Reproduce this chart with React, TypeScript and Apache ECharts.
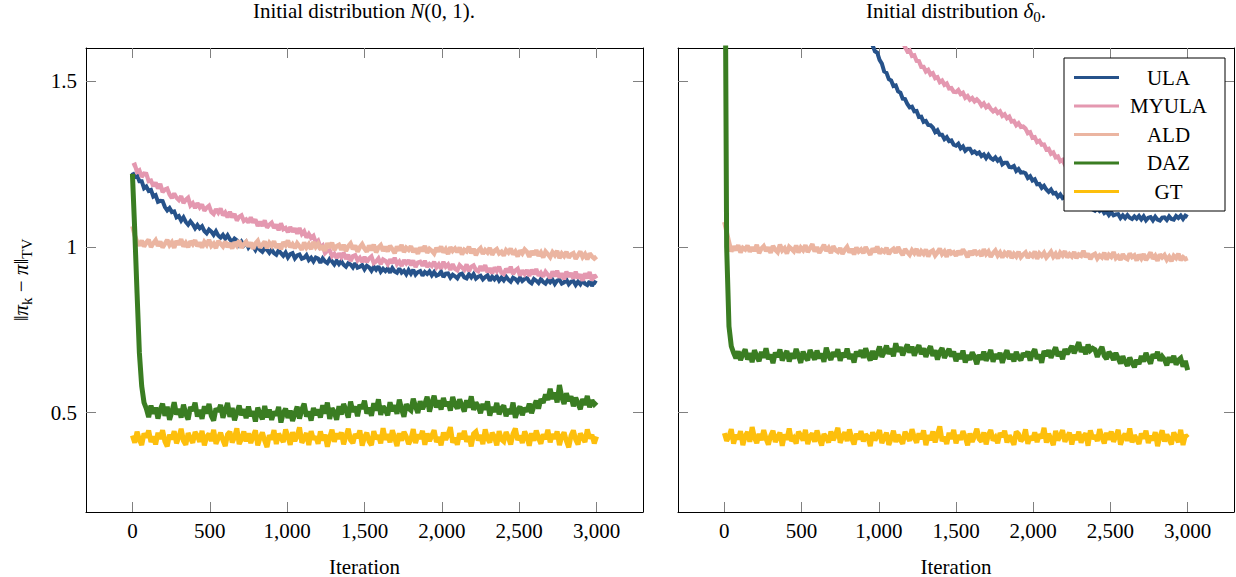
import React, { useEffect, useRef } from "react";
import * as echarts from "echarts";

// Iteration index (x), every 15 iterations
const ITER = [
  0, 15, 30, 45, 60, 75, 90, 105, 120, 135,
  150, 165, 180, 195, 210, 225, 240, 255, 270, 285,
  300, 315, 330, 345, 360, 375, 390, 405, 420, 435,
  450, 465, 480, 495, 510, 525, 540, 555, 570, 585,
  600, 615, 630, 645, 660, 675, 690, 705, 720, 735,
  750, 765, 780, 795, 810, 825, 840, 855, 870, 885,
  900, 915, 930, 945, 960, 975, 990, 1005, 1020, 1035,
  1050, 1065, 1080, 1095, 1110, 1125, 1140, 1155, 1170, 1185,
  1200, 1215, 1230, 1245, 1260, 1275, 1290, 1305, 1320, 1335,
  1350, 1365, 1380, 1395, 1410, 1425, 1440, 1455, 1470, 1485,
  1500, 1515, 1530, 1545, 1560, 1575, 1590, 1605, 1620, 1635,
  1650, 1665, 1680, 1695, 1710, 1725, 1740, 1755, 1770, 1785,
  1800, 1815, 1830, 1845, 1860, 1875, 1890, 1905, 1920, 1935,
  1950, 1965, 1980, 1995, 2010, 2025, 2040, 2055, 2070, 2085,
  2100, 2115, 2130, 2145, 2160, 2175, 2190, 2205, 2220, 2235,
  2250, 2265, 2280, 2295, 2310, 2325, 2340, 2355, 2370, 2385,
  2400, 2415, 2430, 2445, 2460, 2475, 2490, 2505, 2520, 2535,
  2550, 2565, 2580, 2595, 2610, 2625, 2640, 2655, 2670, 2685,
  2700, 2715, 2730, 2745, 2760, 2775, 2790, 2805, 2820, 2835,
  2850, 2865, 2880, 2895, 2910, 2925, 2940, 2955, 2970, 2985,
  3000,
];

const SERIES_NAMES = ["ULA", "MYULA", "ALD", "DAZ", "GT"];
const X_TICKS = [0, 500, 1000, 1500, 2000, 2500, 3000];
const Y_TICKS = [0.5, 1, 1.5];

// ---- Left panel: initial distribution N(0,1) ----
const L_ULA = [
  1.225, 1.211, 1.216, 1.198, 1.198, 1.177, 1.182, 1.169, 1.172, 1.152,
  1.156, 1.136, 1.139, 1.138, 1.120, 1.110, 1.117, 1.105, 1.107, 1.089,
  1.093, 1.079, 1.089, 1.075, 1.067, 1.077, 1.068, 1.056, 1.066, 1.056,
  1.062, 1.048, 1.041, 1.052, 1.046, 1.036, 1.047, 1.034, 1.028, 1.036,
  1.025, 1.035, 1.023, 1.015, 1.025, 1.020, 1.006, 1.016, 1.005, 1.014,
  0.998, 1.007, 1.001, 0.990, 1.003, 0.991, 0.985, 0.996, 0.991, 0.982,
  0.992, 0.981, 0.976, 0.990, 0.981, 0.973, 0.983, 0.968, 0.978, 0.981,
  0.965, 0.974, 0.977, 0.964, 0.967, 0.975, 0.960, 0.967, 0.956, 0.968,
  0.965, 0.952, 0.965, 0.956, 0.951, 0.963, 0.956, 0.947, 0.958, 0.948,
  0.957, 0.946, 0.940, 0.951, 0.947, 0.938, 0.951, 0.937, 0.940, 0.945,
  0.932, 0.943, 0.938, 0.928, 0.940, 0.931, 0.941, 0.925, 0.934, 0.927,
  0.935, 0.922, 0.936, 0.926, 0.922, 0.935, 0.922, 0.928, 0.917, 0.930,
  0.919, 0.931, 0.916, 0.924, 0.927, 0.913, 0.924, 0.918, 0.926, 0.914,
  0.924, 0.913, 0.916, 0.925, 0.909, 0.919, 0.920, 0.907, 0.916, 0.911,
  0.905, 0.917, 0.919, 0.908, 0.905, 0.917, 0.908, 0.918, 0.904, 0.910,
  0.913, 0.902, 0.909, 0.914, 0.898, 0.910, 0.902, 0.911, 0.898, 0.907,
  0.899, 0.910, 0.901, 0.895, 0.907, 0.903, 0.895, 0.908, 0.897, 0.903,
  0.906, 0.895, 0.890, 0.903, 0.898, 0.891, 0.903, 0.894, 0.889, 0.900,
  0.893, 0.901, 0.888, 0.898, 0.901, 0.889, 0.893, 0.901, 0.887, 0.895,
  0.897, 0.885, 0.895, 0.887, 0.899, 0.889, 0.885, 0.896, 0.882, 0.894,
  0.890,
];
const L_MYULA = [
  1.245, 1.248, 1.226, 1.231, 1.211, 1.221, 1.220, 1.198, 1.200, 1.183,
  1.194, 1.176, 1.190, 1.165, 1.173, 1.176, 1.158, 1.147, 1.161, 1.148,
  1.141, 1.153, 1.132, 1.142, 1.148, 1.125, 1.132, 1.117, 1.132, 1.119,
  1.128, 1.109, 1.118, 1.124, 1.105, 1.099, 1.114, 1.103, 1.116, 1.095,
  1.104, 1.089, 1.106, 1.089, 1.099, 1.079, 1.091, 1.095, 1.078, 1.083,
  1.073, 1.089, 1.073, 1.083, 1.063, 1.076, 1.063, 1.080, 1.058, 1.067,
  1.073, 1.057, 1.067, 1.050, 1.071, 1.053, 1.057, 1.044, 1.060, 1.045,
  1.056, 1.040, 1.057, 1.039, 1.047, 1.028, 1.039, 1.027, 1.033, 1.013,
  1.019, 0.998, 1.004, 0.981, 0.988, 0.990, 0.972, 0.979, 0.966, 0.980,
  0.969, 0.982, 0.963, 0.976, 0.957, 0.972, 0.975, 0.959, 0.967, 0.954,
  0.970, 0.954, 0.965, 0.971, 0.951, 0.956, 0.965, 0.948, 0.962, 0.958,
  0.948, 0.962, 0.951, 0.967, 0.948, 0.956, 0.942, 0.960, 0.950, 0.960,
  0.944, 0.959, 0.939, 0.953, 0.955, 0.943, 0.958, 0.939, 0.948, 0.942,
  0.955, 0.938, 0.947, 0.934, 0.955, 0.940, 0.947, 0.930, 0.948, 0.934,
  0.929, 0.945, 0.938, 0.931, 0.947, 0.926, 0.940, 0.944, 0.930, 0.926,
  0.942, 0.928, 0.945, 0.923, 0.936, 0.920, 0.938, 0.927, 0.940, 0.922,
  0.918, 0.934, 0.923, 0.940, 0.918, 0.929, 0.934, 0.913, 0.929, 0.918,
  0.930, 0.912, 0.931, 0.917, 0.933, 0.913, 0.922, 0.910, 0.925, 0.916,
  0.906, 0.926, 0.911, 0.928, 0.907, 0.920, 0.902, 0.925, 0.910, 0.921,
  0.904, 0.925, 0.905, 0.917, 0.898, 0.920, 0.905, 0.924, 0.899, 0.915,
  0.905,
];
const L_ALD = [
  1.062, 1.035, 1.015, 1.004, 1.019, 1.001, 1.013, 1.022, 0.999, 1.011,
  1.020, 1.003, 1.016, 0.998, 1.009, 1.021, 1.005, 1.014, 0.997, 1.018,
  1.007, 1.023, 1.001, 1.012, 0.999, 1.017, 1.008, 1.020, 1.002, 1.013,
  0.998, 1.015, 1.006, 1.021, 1.003, 1.010, 0.996, 1.018, 1.009, 1.001,
  1.016, 0.999, 1.011, 0.995, 1.014, 1.004, 1.019, 0.997, 1.008, 1.015,
  1.001, 1.013, 0.994, 1.010, 1.018, 0.998, 1.007, 1.016, 0.996, 1.012,
  1.003, 1.017, 0.997, 1.009, 0.993, 1.014, 1.005, 1.019, 0.999, 1.008,
  0.996, 1.011, 1.002, 0.991, 1.013, 0.998, 1.008, 0.993, 1.015, 1.000,
  1.009, 0.992, 1.004, 0.988, 1.011, 0.997, 1.013, 0.990, 1.002, 1.006,
  0.991, 1.006, 0.987, 1.002, 1.010, 0.993, 1.004, 0.985, 0.999, 1.008,
  0.995, 0.985, 1.004, 0.990, 1.007, 0.983, 0.998, 1.005, 0.988, 1.000,
  0.986, 1.003, 0.993, 0.981, 1.001, 0.989, 1.006, 0.984, 0.997, 0.991,
  1.002, 0.984, 0.995, 0.979, 0.998, 0.987, 1.003, 0.982, 0.994, 0.988,
  0.980, 0.997, 0.986, 1.001, 0.983, 0.993, 0.978, 0.999, 0.988, 0.995,
  0.984, 0.998, 0.977, 0.991, 0.986, 1.000, 0.981, 0.994, 0.975, 0.989,
  0.996, 0.979, 0.990, 0.983, 0.997, 0.976, 0.988, 0.993, 0.980, 0.985,
  0.974, 0.990, 0.983, 0.995, 0.977, 0.986, 0.971, 0.989, 0.980, 0.992,
  0.985, 0.970, 0.987, 0.976, 0.990, 0.973, 0.983, 0.968, 0.986, 0.978,
  0.969, 0.984, 0.975, 0.988, 0.966, 0.980, 0.972, 0.985, 0.967, 0.977,
  0.981, 0.964, 0.975, 0.986, 0.969, 0.978, 0.962, 0.980, 0.971, 0.965,
  0.971,
];
const L_DAZ = [
  1.220, 1.050, 0.860, 0.680, 0.580, 0.530, 0.512, 0.486, 0.521, 0.497,
  0.515, 0.482, 0.509, 0.527, 0.490, 0.518, 0.478, 0.502, 0.531, 0.494,
  0.511, 0.485, 0.524, 0.496, 0.479, 0.517, 0.505, 0.530, 0.488, 0.508,
  0.481, 0.519, 0.497, 0.526, 0.490, 0.476, 0.512, 0.503, 0.523, 0.484,
  0.507, 0.529, 0.487, 0.514, 0.477, 0.500, 0.521, 0.492, 0.510, 0.483,
  0.518, 0.489, 0.504, 0.473, 0.515, 0.496, 0.480, 0.520, 0.486, 0.509,
  0.478, 0.503, 0.491, 0.517, 0.470, 0.499, 0.512, 0.484, 0.506, 0.475,
  0.496, 0.518, 0.482, 0.509, 0.527, 0.488, 0.503, 0.476, 0.514, 0.493,
  0.509, 0.485, 0.522, 0.497, 0.530, 0.481, 0.513, 0.501, 0.478, 0.519,
  0.494, 0.526, 0.507, 0.485, 0.533, 0.502, 0.518, 0.489, 0.524, 0.511,
  0.536, 0.497, 0.515, 0.490, 0.528, 0.506, 0.540, 0.493, 0.519, 0.508,
  0.492, 0.531, 0.504, 0.522, 0.496, 0.539, 0.510, 0.487, 0.525, 0.513,
  0.507, 0.542, 0.518, 0.499, 0.534, 0.511, 0.526, 0.548, 0.503, 0.529,
  0.551, 0.515, 0.537, 0.509, 0.544, 0.520, 0.532, 0.506, 0.547, 0.524,
  0.512, 0.540, 0.521, 0.503, 0.537, 0.515, 0.549, 0.508, 0.530, 0.519,
  0.498, 0.526, 0.509, 0.534, 0.491, 0.517, 0.502, 0.529, 0.495, 0.513,
  0.521, 0.489, 0.511, 0.496, 0.530, 0.484, 0.507, 0.518, 0.492, 0.514,
  0.503, 0.527, 0.498, 0.519, 0.536, 0.512, 0.541, 0.529, 0.555, 0.538,
  0.572, 0.541, 0.560, 0.531, 0.583, 0.547, 0.526, 0.558, 0.535, 0.549,
  0.519, 0.545, 0.528, 0.510, 0.541, 0.523, 0.550, 0.516, 0.537, 0.525,
  0.532,
];
const L_GT = [
  0.431, 0.409, 0.442, 0.418, 0.402, 0.437, 0.425, 0.446, 0.411, 0.428,
  0.404, 0.439, 0.421, 0.447, 0.413, 0.398, 0.433, 0.419, 0.444, 0.407,
  0.426, 0.451, 0.415, 0.403, 0.438, 0.422, 0.409, 0.441, 0.430, 0.412,
  0.445, 0.401, 0.427, 0.436, 0.414, 0.448, 0.406, 0.423, 0.439, 0.417,
  0.399, 0.434, 0.442, 0.410, 0.426, 0.452, 0.405, 0.420, 0.443, 0.413,
  0.437, 0.408, 0.429, 0.446, 0.401, 0.424, 0.440, 0.415, 0.396, 0.432,
  0.418, 0.447, 0.405, 0.436, 0.423, 0.411, 0.449, 0.428, 0.403, 0.441,
  0.414, 0.430, 0.455, 0.409, 0.422, 0.438, 0.402, 0.444, 0.419, 0.427,
  0.406, 0.443, 0.416, 0.433, 0.397, 0.425, 0.448, 0.412, 0.437, 0.421,
  0.440, 0.404, 0.429, 0.451, 0.417, 0.408, 0.435, 0.423, 0.446, 0.400,
  0.426, 0.439, 0.413, 0.402, 0.444, 0.420, 0.431, 0.407, 0.453, 0.418,
  0.435, 0.410, 0.447, 0.424, 0.399, 0.438, 0.415, 0.442, 0.428, 0.405,
  0.419, 0.450, 0.408, 0.433, 0.421, 0.445, 0.403, 0.437, 0.414, 0.430,
  0.447, 0.411, 0.426, 0.401, 0.440, 0.418, 0.434, 0.456, 0.409, 0.424,
  0.403, 0.438, 0.420, 0.445, 0.412, 0.429, 0.398, 0.436, 0.442, 0.416,
  0.432, 0.405, 0.449, 0.422, 0.410, 0.439, 0.427, 0.401, 0.444, 0.419,
  0.413, 0.441, 0.425, 0.404, 0.436, 0.452, 0.417, 0.430, 0.408, 0.443,
  0.427, 0.400, 0.438, 0.415, 0.446, 0.423, 0.406, 0.434, 0.420, 0.448,
  0.410, 0.435, 0.421, 0.443, 0.402, 0.428, 0.440, 0.414, 0.395, 0.431,
  0.446, 0.418, 0.404, 0.437, 0.425, 0.411, 0.449, 0.422, 0.433, 0.407,
  0.428,
];

// ---- Right panel: initial distribution delta_0 ----
// ULA and MYULA are above the plotted range before these iterations
const R_ULA_START = 900;
const R_MYULA_START = 1050;
const R_ULA = [
  1.670, 1.659, 1.637, 1.630, 1.608, 1.590, 1.586, 1.564, 1.553, 1.529,
  1.525, 1.506, 1.502, 1.485, 1.487, 1.469, 1.465, 1.447, 1.446, 1.431,
  1.421, 1.423, 1.409, 1.410, 1.392, 1.393, 1.377, 1.380, 1.368, 1.367,
  1.360, 1.346, 1.352, 1.338, 1.338, 1.325, 1.331, 1.319, 1.321, 1.308,
  1.305, 1.311, 1.297, 1.303, 1.290, 1.296, 1.296, 1.284, 1.288, 1.281,
  1.285, 1.274, 1.279, 1.268, 1.278, 1.268, 1.263, 1.270, 1.260, 1.266,
  1.249, 1.254, 1.254, 1.241, 1.240, 1.244, 1.229, 1.235, 1.224, 1.225,
  1.222, 1.208, 1.213, 1.200, 1.204, 1.189, 1.190, 1.178, 1.184, 1.173,
  1.166, 1.173, 1.161, 1.163, 1.151, 1.158, 1.147, 1.151, 1.139, 1.143,
  1.141, 1.130, 1.139, 1.126, 1.130, 1.119, 1.128, 1.119, 1.122, 1.113,
  1.109, 1.116, 1.108, 1.114, 1.102, 1.107, 1.096, 1.105, 1.095, 1.098,
  1.099, 1.087, 1.095, 1.087, 1.096, 1.088, 1.084, 1.092, 1.085, 1.093,
  1.083, 1.092, 1.080, 1.088, 1.090, 1.080, 1.091, 1.082, 1.079, 1.088,
  1.089, 1.081, 1.092, 1.084, 1.082, 1.093, 1.087, 1.094, 1.084, 1.094,
  1.090,
];
const R_MYULA = [
  1.700, 1.691, 1.673, 1.668, 1.649, 1.643, 1.625, 1.619, 1.603, 1.590,
  1.593, 1.576, 1.578, 1.561, 1.560, 1.543, 1.543, 1.529, 1.534, 1.520,
  1.524, 1.509, 1.512, 1.497, 1.502, 1.489, 1.493, 1.478, 1.479, 1.468,
  1.467, 1.473, 1.461, 1.465, 1.450, 1.455, 1.444, 1.449, 1.439, 1.445,
  1.438, 1.426, 1.433, 1.421, 1.427, 1.416, 1.409, 1.415, 1.404, 1.409,
  1.395, 1.400, 1.388, 1.393, 1.378, 1.380, 1.367, 1.373, 1.362, 1.363,
  1.357, 1.343, 1.346, 1.329, 1.331, 1.316, 1.320, 1.308, 1.309, 1.294,
  1.296, 1.281, 1.285, 1.270, 1.273, 1.258, 1.262, 1.248, 1.251, 1.240,
  1.243, 1.233, 1.235, 1.225, 1.227, 1.218, 1.220, 1.211, 1.214, 1.205,
  1.207, 1.198, 1.201, 1.192, 1.195, 1.187, 1.190, 1.182, 1.185, 1.177,
  1.180, 1.172, 1.175, 1.167, 1.171, 1.163, 1.167, 1.159, 1.163, 1.155,
  1.158, 1.150, 1.154, 1.146, 1.150, 1.142, 1.146, 1.139, 1.143, 1.136,
  1.141, 1.133, 1.138, 1.130, 1.135, 1.127, 1.132, 1.125, 1.130, 1.123,
  1.125,
];
const R_ALD = [
  1.075, 1.045, 1.015, 0.986, 1.001, 0.990, 1.005, 0.983, 0.997, 0.992,
  1.004, 0.985, 0.999, 0.988, 1.006, 0.981, 0.995, 1.002, 0.987, 0.998,
  0.982, 1.003, 0.991, 0.984, 1.007, 0.989, 0.996, 0.980, 1.000, 0.994,
  0.987, 1.004, 0.983, 0.998, 0.990, 1.005, 0.984, 0.996, 1.008, 0.986,
  0.999, 0.982, 0.993, 1.006, 0.988, 0.997, 0.981, 1.002, 0.990, 0.985,
  0.996, 0.979, 0.991, 1.000, 0.983, 0.994, 0.977, 0.998, 0.986, 0.992,
  0.981, 0.999, 0.987, 0.976, 0.995, 0.984, 1.001, 0.980, 0.990, 0.985,
  0.997, 0.978, 0.989, 0.994, 0.982, 0.999, 0.986, 0.975, 0.993, 0.984,
  0.976, 0.990, 0.981, 0.994, 0.973, 0.987, 0.979, 0.992, 0.971, 0.985,
  0.989, 0.974, 0.983, 0.995, 0.978, 0.986, 0.970, 0.991, 0.980, 0.984,
  0.973, 0.988, 0.977, 0.992, 0.982, 0.969, 0.987, 0.975, 0.990, 0.979,
  0.984, 0.972, 0.993, 0.978, 0.986, 0.970, 0.981, 0.989, 0.974, 0.983,
  0.968, 0.982, 0.975, 0.987, 0.966, 0.979, 0.971, 0.985, 0.969, 0.977,
  0.983, 0.967, 0.978, 0.972, 0.986, 0.964, 0.980, 0.973, 0.982, 0.968,
  0.976, 0.985, 0.970, 0.979, 0.965, 0.982, 0.974, 0.987, 0.968, 0.978,
  0.971, 0.984, 0.966, 0.977, 0.973, 0.988, 0.969, 0.980, 0.963, 0.975,
  0.979, 0.965, 0.974, 0.968, 0.982, 0.962, 0.976, 0.970, 0.984, 0.966,
  0.972, 0.961, 0.978, 0.967, 0.963, 0.980, 0.969, 0.974, 0.959, 0.976,
  0.965, 0.978, 0.960, 0.971, 0.983, 0.964, 0.973, 0.958, 0.977, 0.968,
  0.975, 0.961, 0.970, 0.957, 0.973, 0.966, 0.979, 0.960, 0.969, 0.963,
  0.966,
];
const R_DAZ = [
  2.400, 1.000, 0.760, 0.700, 0.680, 0.664, 0.685, 0.658, 0.677, 0.691,
  0.660, 0.679, 0.652, 0.688, 0.670, 0.655, 0.683, 0.666, 0.694, 0.661,
  0.675, 0.649, 0.681, 0.668, 0.690, 0.657, 0.673, 0.686, 0.654, 0.679,
  0.663, 0.692, 0.671, 0.650, 0.684, 0.667, 0.658, 0.689, 0.674, 0.660,
  0.687, 0.664, 0.678, 0.653, 0.696, 0.672, 0.659, 0.682, 0.669, 0.691,
  0.656, 0.680, 0.667, 0.693, 0.662, 0.676, 0.651, 0.684, 0.670, 0.688,
  0.665, 0.694, 0.673, 0.657, 0.686, 0.661, 0.679, 0.699, 0.668, 0.683,
  0.702, 0.677, 0.693, 0.670, 0.709, 0.684, 0.697, 0.673, 0.690, 0.705,
  0.681, 0.699, 0.672, 0.690, 0.703, 0.676, 0.694, 0.668, 0.687, 0.700,
  0.671, 0.688, 0.660, 0.683, 0.695, 0.665, 0.679, 0.692, 0.669, 0.684,
  0.655, 0.678, 0.662, 0.687, 0.651, 0.673, 0.659, 0.682, 0.668, 0.646,
  0.674, 0.660, 0.684, 0.657, 0.671, 0.689, 0.653, 0.676, 0.663, 0.680,
  0.650, 0.672, 0.688, 0.661, 0.677, 0.654, 0.683, 0.666, 0.658, 0.679,
  0.669, 0.684, 0.657, 0.678, 0.691, 0.662, 0.675, 0.650, 0.686, 0.671,
  0.688, 0.665, 0.682, 0.697, 0.670, 0.684, 0.661, 0.692, 0.677, 0.689,
  0.701, 0.679, 0.695, 0.712, 0.683, 0.698, 0.676, 0.705, 0.688, 0.694,
  0.690, 0.668, 0.685, 0.698, 0.671, 0.662, 0.683, 0.674, 0.659, 0.680,
  0.664, 0.648, 0.670, 0.653, 0.641, 0.666, 0.650, 0.637, 0.659, 0.646,
  0.671, 0.654, 0.680, 0.662, 0.648, 0.676, 0.665, 0.683, 0.657, 0.669,
  0.660, 0.643, 0.667, 0.652, 0.671, 0.645, 0.658, 0.664, 0.639, 0.656,
  0.628,
];
const R_GT = [
  0.438, 0.415, 0.427, 0.450, 0.406, 0.433, 0.419, 0.444, 0.402, 0.429,
  0.441, 0.412, 0.456, 0.424, 0.408, 0.436, 0.417, 0.447, 0.421, 0.403,
  0.430, 0.445, 0.411, 0.426, 0.439, 0.400, 0.434, 0.418, 0.452, 0.414,
  0.423, 0.407, 0.442, 0.431, 0.416, 0.448, 0.405, 0.428, 0.437, 0.412,
  0.446, 0.420, 0.401, 0.435, 0.425, 0.410, 0.443, 0.417, 0.432, 0.454,
  0.409, 0.427, 0.440, 0.414, 0.449, 0.422, 0.404, 0.436, 0.419, 0.444,
  0.413, 0.434, 0.426, 0.399, 0.441, 0.416, 0.430, 0.447, 0.408, 0.425,
  0.439, 0.403, 0.421, 0.445, 0.411, 0.433, 0.418, 0.406, 0.442, 0.428,
  0.415, 0.450, 0.424, 0.409, 0.437, 0.420, 0.446, 0.402, 0.431, 0.417,
  0.443, 0.410, 0.435, 0.458, 0.414, 0.426, 0.405, 0.439, 0.421, 0.448,
  0.407, 0.432, 0.418, 0.444, 0.426, 0.401, 0.437, 0.412, 0.429, 0.451,
  0.420, 0.413, 0.440, 0.404, 0.433, 0.447, 0.416, 0.425, 0.408, 0.438,
  0.427, 0.445, 0.410, 0.431, 0.419, 0.403, 0.442, 0.435, 0.414, 0.422,
  0.449, 0.406, 0.428, 0.417, 0.440, 0.411, 0.434, 0.423, 0.454, 0.409,
  0.436, 0.420, 0.402, 0.445, 0.416, 0.430, 0.447, 0.412, 0.426, 0.439,
  0.404, 0.433, 0.418, 0.442, 0.409, 0.428, 0.437, 0.400, 0.446, 0.421,
  0.431, 0.414, 0.450, 0.425, 0.407, 0.439, 0.418, 0.443, 0.412, 0.429,
  0.448, 0.403, 0.424, 0.436, 0.415, 0.452, 0.410, 0.431, 0.420, 0.405,
  0.437, 0.422, 0.445, 0.408, 0.430, 0.416, 0.441, 0.399, 0.427, 0.446,
  0.413, 0.434, 0.419, 0.404, 0.440, 0.425, 0.411, 0.448, 0.402, 0.432,
  0.424,
];

const COLORS = ["#26528a", "#e498b0", "#ebb5a1", "#3a7d22", "#fdbf0c"];
const LINE_WIDTHS = [4, 4.2, 4.5, 5, 5];
const FONT = "'Liberation Serif', 'Times New Roman', serif";
const FS = 21;

// pair each value with its iteration, starting at a given iteration
const pairs = (ys: number[], start: number) => {
  const off = ITER.indexOf(start);
  return ys.map((y, i) => [ITER[off + i], y]);
};

export default function App() {
  const ref = useRef<HTMLDivElement>(null);

  useEffect(() => {
    if (!ref.current) return;
    const chart = echarts.init(ref.current, null, { renderer: "svg" });

    const left: [number[], number][] = [
      [L_ULA, 0], [L_MYULA, 0], [L_ALD, 0], [L_DAZ, 0], [L_GT, 0],
    ];
    const right: [number[], number][] = [
      [R_ULA, R_ULA_START], [R_MYULA, R_MYULA_START], [R_ALD, 0], [R_DAZ, 0], [R_GT, 0],
    ];

    const grids = [
      { left: 86, top: 48, width: 557, height: 464, outerBoundsMode: "none", containLabel: false },
      { left: 678, top: 48, width: 556, height: 464, outerBoundsMode: "none", containLabel: false },
    ];

    const tickStyle = {
      show: true,
      inside: true,
      length: 10,
      customValues: X_TICKS,
      lineStyle: { color: "#808080", width: 1 },
    };
    const axisLine = { show: true, onZero: false, lineStyle: { color: "#000", width: 1 } };
    const labelFont = { fontFamily: FONT, fontSize: FS, color: "#000", fontWeight: "normal" };
    const rich = {
      n: { fontFamily: FONT, fontSize: FS, color: "#000", fontWeight: "normal", lineHeight: 24, verticalAlign: "top" },
      i: { fontFamily: FONT, fontSize: FS, color: "#000", fontWeight: "normal", fontStyle: "italic", lineHeight: 24, verticalAlign: "top" },
      s: { fontFamily: FONT, fontSize: 15, color: "#000", fontWeight: "normal", lineHeight: 24, verticalAlign: "top", padding: [9, 0, 0, 0] },
    };

    const xAxes: any[] = [];
    const yAxes: any[] = [];
    [0, 1].forEach((g) => {
      xAxes.push({
        type: "value",
        gridIndex: g,
        position: "bottom",
        min: -300,
        max: 3300,
        axisLine,
        axisTick: tickStyle,
        splitLine: { show: false },
        axisLabel: {
          ...labelFont,
          margin: 8,
          customValues: X_TICKS,
          formatter: (v: number) => v.toLocaleString("en-US"),
        },
        name: "Iteration",
        nameLocation: "middle",
        nameGap: 44,
        nameTextStyle: { ...labelFont },
      });
      xAxes.push({
        type: "value",
        gridIndex: g,
        position: "top",
        min: -300,
        max: 3300,
        axisLine,
        axisTick: tickStyle,
        splitLine: { show: false },
        axisLabel: { show: false },
      });
      yAxes.push({
        type: "value",
        gridIndex: g,
        position: "left",
        min: 0.2,
        max: 1.6,
        axisLine,
        axisTick: { ...tickStyle, customValues: Y_TICKS },
        splitLine: { show: false },
        axisLabel: {
          show: g === 0,
          ...labelFont,
          margin: 9,
          customValues: Y_TICKS,
        },
        name: g === 0 ? "{n|‖}{i|π}{s|k}{n| − }{i|π}{n|‖}{s|TV}" : "",
        nameLocation: "middle",
        nameGap: 52,
        nameTextStyle: { ...labelFont, rich },
      });
      yAxes.push({
        type: "value",
        gridIndex: g,
        position: "right",
        min: 0.2,
        max: 1.6,
        axisLine,
        axisTick: { ...tickStyle, customValues: Y_TICKS },
        splitLine: { show: false },
        axisLabel: { show: false },
      });
    });

    const mkSeries = (arrs: [number[], number][], axis: number) =>
      arrs.map(([ys, start], k) => ({
        type: "line",
        name: SERIES_NAMES[k],
        xAxisIndex: axis,
        yAxisIndex: axis,
        data: pairs(ys, start),
        showSymbol: false,
        symbol: "none",
        clip: true,
        lineStyle: { color: COLORS[k], width: LINE_WIDTHS[k], join: "miter", miterLimit: 2 },
        itemStyle: { color: COLORS[k] },
        emphasis: { disabled: true },
      }));

    chart.setOption({
      animation: false,
      backgroundColor: "#fff",
      title: [
        {
          text: "{n|Initial distribution }{i|N}{n|(0, 1).}",
          left: 364,
          top: 0,
          padding: 0,
          textAlign: "center",
          textStyle: { fontWeight: "normal", rich },
        },
        {
          text: "{n|Initial distribution }{i|δ}{s|0}{n|.}",
          left: 956,
          top: 0,
          padding: 0,
          textAlign: "center",
          textStyle: { fontWeight: "normal", rich },
        },
      ],
      legend: {
        data: SERIES_NAMES,
        orient: "vertical",
        left: 1064,
        top: 58,
        padding: [9, 12, 9, 10],
        itemGap: 7.5,
        itemWidth: 45,
        itemHeight: 3,
        icon: "rect",
        backgroundColor: "#fff",
        borderColor: "#000",
        borderWidth: 1,
        borderRadius: 0,
        selectedMode: false,
        formatter: (n: string) => `{c|${n}}`,
        textStyle: {
          fontFamily: FONT,
          fontSize: FS,
          color: "#000",
          lineHeight: 21,
          rich: {
            c: { fontFamily: FONT, fontSize: FS, color: "#000", width: 89, align: "center", lineHeight: 21 },
          },
        },
      },
      grid: grids,
      xAxis: xAxes,
      yAxis: yAxes,
      series: [...mkSeries(left, 0), ...mkSeries(right, 2)],
    });

    return () => chart.dispose();
  }, []);

  return (
    <div
      ref={ref}
      style={{ position: "absolute", left: 0, top: 0, width: 1236, height: 577 }}
    />
  );
}
